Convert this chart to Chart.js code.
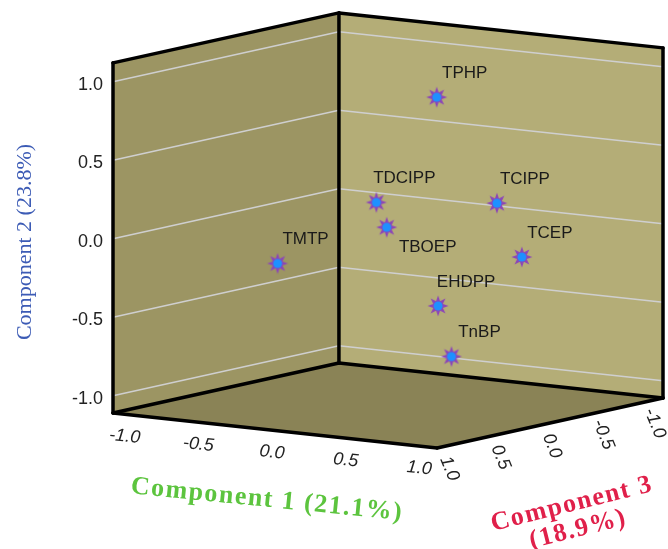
<!DOCTYPE html>
<html lang="en">
<head>
    <meta charset="UTF-8">
    <meta name="viewport" content="width=device-width, initial-scale=1.0">
    <title>PCA Loadings 3D</title>
    <script src="https://cdn.jsdelivr.net/npm/chart.js"></script>
    <style>
        body {
            margin: 0;
            background-color: #ffffff;
        }
        #chartContainer {
            width: 668px;
            height: 549px;
        }
    </style>
</head>
<body>
    <div id="chartContainer">
        <canvas id="pcaChart" width="668" height="549"></canvas>
    </div>

    <script>
        // Loadings
        const compounds = ['TPHP', 'TDCIPP', 'TCIPP', 'TBOEP', 'TCEP', 'EHDPP', 'TnBP', 'TMTP'];
        const comp1 = [0.47, 0.13, 0.60, 0.27, 0.56, 0.41, 0.64, -0.68];
        const comp2 = [0.93, 0.24, 0.21, 0.11, -0.18, -0.42, -0.69, -0.26];
        const comp3 = [0.20, 0.30, -0.20, 0.40, -0.50, 0.10, 0.30, 0.10];
        const axisTicks = [-1.0, -0.5, 0.0, 0.5, 1.0];

        // Box extents in loading units
        const X_MIN = -1.1, X_MAX = 1.1;
        const Y_MIN = -1.11, Y_MAX = 1.12;
        const Z_MIN = -1.1, Z_MAX = 1.1;

        // Oblique projection of the 3D box onto the flat chart plane
        const ORIGIN = [388, 231.2];
        const EX = [147.3, 15.9];
        const EY = [0, -157];
        const EZ = [-102.7, 22.7];

        function project(x, y, z) {
            return {
                x: ORIGIN[0] + x * EX[0] + y * EY[0] + z * EZ[0],
                y: ORIGIN[1] + x * EX[1] + y * EY[1] + z * EZ[1]
            };
        }

        // 8-point star marker with blue centre
        function makeStar() {
            const c = document.createElement('canvas');
            c.width = c.height = 24;
            const g = c.getContext('2d');
            g.translate(12, 12);
            g.beginPath();
            for (let i = 0; i < 16; i++) {
                const r = i % 2 ? 5.2 : 10.5;
                const a = i * Math.PI / 8 - Math.PI / 2;
                g.lineTo(r * Math.cos(a), r * Math.sin(a));
            }
            g.closePath();
            g.fillStyle = '#8c45b8';
            g.fill();
            g.beginPath();
            g.arc(0, 0, 4.5, 0, Math.PI * 2);
            g.fillStyle = '#1e90ff';
            g.fill();
            return c;
        }

        const points = compounds.map((name, i) => project(comp1[i], comp2[i], comp3[i]));

        // Draws the walls, floor, grid lines and axis text
        const boxPlugin = {
            id: 'box3d',
            beforeDatasetsDraw(chart) {
                const ctx = chart.ctx;
                const sx = chart.scales.x, sy = chart.scales.y;
                const P = (x, y, z) => {
                    const p = project(x, y, z);
                    return [sx.getPixelForValue(p.x), sy.getPixelForValue(p.y)];
                };
                const poly = (pts, fill) => {
                    ctx.beginPath();
                    pts.forEach((p, i) => i ? ctx.lineTo(p[0], p[1]) : ctx.moveTo(p[0], p[1]));
                    ctx.closePath();
                    ctx.fillStyle = fill;
                    ctx.fill();
                };
                const line = (a, b) => {
                    ctx.beginPath();
                    ctx.moveTo(a[0], a[1]);
                    ctx.lineTo(b[0], b[1]);
                    ctx.stroke();
                };

                ctx.save();
                // left wall (x = min)
                poly([P(X_MIN, Y_MIN, Z_MAX), P(X_MIN, Y_MAX, Z_MAX), P(X_MIN, Y_MAX, Z_MIN), P(X_MIN, Y_MIN, Z_MIN)], '#9c9563');
                // back wall (z = min)
                poly([P(X_MIN, Y_MIN, Z_MIN), P(X_MIN, Y_MAX, Z_MIN), P(X_MAX, Y_MAX, Z_MIN), P(X_MAX, Y_MIN, Z_MIN)], '#b4ad77');
                // floor (y = min)
                poly([P(X_MIN, Y_MIN, Z_MAX), P(X_MIN, Y_MIN, Z_MIN), P(X_MAX, Y_MIN, Z_MIN), P(X_MAX, Y_MIN, Z_MAX)], '#8a8356');

                // grid lines on the walls
                ctx.strokeStyle = '#cfcfcf';
                ctx.lineWidth = 1.5;
                axisTicks.forEach(t => {
                    line(P(X_MIN, t, Z_MAX), P(X_MIN, t, Z_MIN));
                    line(P(X_MIN, t, Z_MIN), P(X_MAX, t, Z_MIN));
                });

                // box edges
                ctx.strokeStyle = '#000000';
                ctx.lineWidth = 3.5;
                ctx.lineJoin = 'round';
                ctx.lineCap = 'round';
                line(P(X_MIN, Y_MIN, Z_MAX), P(X_MIN, Y_MAX, Z_MAX));
                line(P(X_MIN, Y_MAX, Z_MAX), P(X_MIN, Y_MAX, Z_MIN));
                line(P(X_MIN, Y_MAX, Z_MIN), P(X_MAX, Y_MAX, Z_MIN));
                line(P(X_MAX, Y_MAX, Z_MIN), P(X_MAX, Y_MIN, Z_MIN));
                line(P(X_MIN, Y_MIN, Z_MIN), P(X_MIN, Y_MAX, Z_MIN));
                line(P(X_MIN, Y_MIN, Z_MAX), P(X_MIN, Y_MIN, Z_MIN));
                line(P(X_MIN, Y_MIN, Z_MIN), P(X_MAX, Y_MIN, Z_MIN));
                line(P(X_MIN, Y_MIN, Z_MAX), P(X_MAX, Y_MIN, Z_MAX));
                line(P(X_MAX, Y_MIN, Z_MAX), P(X_MAX, Y_MIN, Z_MIN));

                // tick labels
                ctx.fillStyle = '#222222';
                ctx.font = '18px "Liberation Sans", Arial, sans-serif';
                ctx.textAlign = 'right';
                ctx.textBaseline = 'middle';
                axisTicks.forEach(t => {
                    const p = P(X_MIN, t, Z_MAX);
                    ctx.fillText(t.toFixed(1), p[0] - 10, p[1] + 3);
                });

                ctx.textAlign = 'center';
                ctx.font = 'italic 18px "Liberation Sans", Arial, sans-serif';
                axisTicks.forEach(t => {
                    const p = P(t, Y_MIN, Z_MAX);
                    ctx.save();
                    ctx.translate(p[0] - 3, p[1] + 22);
                    ctx.rotate(6 * Math.PI / 180);
                    ctx.fillText(t.toFixed(1), 0, 0);
                    ctx.restore();
                });
                axisTicks.forEach(t => {
                    const p = P(X_MAX, Y_MIN, t);
                    ctx.save();
                    ctx.translate(p[0] + 2, p[1] + 23);
                    ctx.rotate(68 * Math.PI / 180);
                    ctx.fillText(t.toFixed(1), 0, 0);
                    ctx.restore();
                });

                // axis titles
                ctx.save();
                ctx.translate(25, 242);
                ctx.rotate(-Math.PI / 2);
                ctx.font = '22px "Liberation Serif", "Times New Roman", serif';
                ctx.fillStyle = '#3c5bb5';
                ctx.fillText('Component 2 (23.8%)', 0, 0);
                ctx.restore();

                ctx.save();
                ctx.translate(267, 500);
                ctx.rotate(5.6 * Math.PI / 180);
                ctx.font = 'bold 26px "Liberation Serif", "Times New Roman", serif';
                ctx.letterSpacing = '1.5px';
                ctx.fillStyle = '#5cc43e';
                ctx.fillText('Component 1 (21.1%)', 0, 0);
                ctx.restore();

                ctx.save();
                ctx.translate(575, 517);
                ctx.rotate(-14 * Math.PI / 180);
                ctx.font = 'bold 26px "Liberation Serif", "Times New Roman", serif';
                ctx.letterSpacing = '1.5px';
                ctx.fillStyle = '#e0204a';
                ctx.fillText('Component 3', 0, -13);
                ctx.fillText('(18.9%)', 0, 13);
                ctx.restore();

                ctx.restore();
            },
            afterDatasetsDraw(chart) {
                // compound names next to each marker
                const ctx = chart.ctx;
                const meta = chart.getDatasetMeta(0);
                ctx.save();
                ctx.font = '17px "Liberation Sans", Arial, sans-serif';
                ctx.fillStyle = '#1a1a1a';
                ctx.textAlign = 'center';
                ctx.textBaseline = 'middle';
                meta.data.forEach((el, i) => {
                    const below = compounds[i] === 'TBOEP';
                    const dx = below ? 41 : 28;
                    const dy = below ? 20 : -24;
                    ctx.fillText(compounds[i], el.x + dx, el.y + dy);
                });
                ctx.restore();
            }
        };

        function renderChart() {
            const ctx = document.getElementById('pcaChart').getContext('2d');
            new Chart(ctx, {
                type: 'scatter',
                data: {
                    datasets: [{
                        label: 'Loadings',
                        data: points,
                        pointStyle: makeStar(),
                        pointRadius: 11,
                        pointHoverRadius: 11
                    }]
                },
                options: {
                    responsive: false,
                    animation: false,
                    layout: { padding: 0, autoPadding: false },
                    scales: {
                        x: { type: 'linear', min: 0, max: 668, display: false },
                        y: { type: 'linear', min: 0, max: 549, reverse: true, display: false }
                    },
                    plugins: {
                        legend: { display: false },
                        tooltip: { enabled: false }
                    }
                },
                plugins: [boxPlugin]
            });
        }

        window.onload = renderChart;
    </script>
</body>
</html>
